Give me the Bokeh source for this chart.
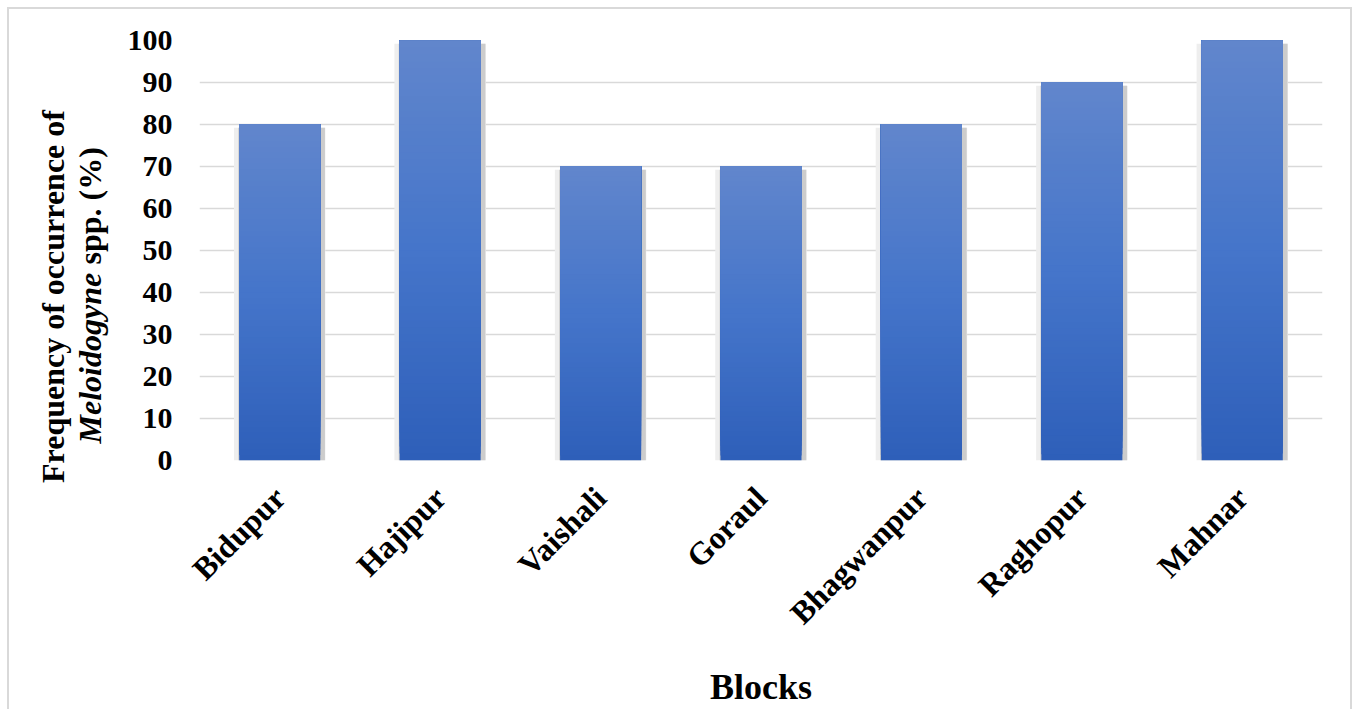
import numpy as np
from math import pi
from bokeh.plotting import figure
from bokeh.layouts import row, column
from bokeh.models import ColumnDataSource, FactorRange, Range1d, FixedTicker, InlineStyleSheet
from bokeh.core.properties import value
from bokeh.transform import dodge
from bokeh.embed import file_html
from bokeh.resources import INLINE

blocks = ["Bidupur", "Hajipur", "Vaishali", "Goraul", "Bhagwanpur", "Raghopur", "Mahnar"]
frequency = [80, 100, 70, 70, 80, 90, 100]
y_ticks = [0, 10, 20, 30, 40, 50, 60, 70, 80, 90, 100]
x_title = "Blocks"
y_title_line1 = "Frequency of occurrence of"
y_title_genus = "Meloidogyne"
y_title_rest = "spp. (%)"

FONT = "Liberation Serif"
LEFT_W = 110
MAIN_W = 1356 - LEFT_W
H = 709

# ---------------- main chart ----------------
p = figure(x_range=FactorRange(factors=blocks), y_range=Range1d(0, 100),
           width=MAIN_W, height=H, output_backend="svg", toolbar_location=None,
           min_border_left=199 - LEFT_W, min_border_right=34, min_border_top=40,
           min_border_bottom=H - 460)
p.outline_line_color = None
p.background_fill_color = "white"
p.border_fill_alpha = 0

p.xgrid.grid_line_color = None
p.ygrid.grid_line_color = "#d9d9d9"
p.ygrid.grid_line_width = 1.5
p.yaxis.ticker = FixedTicker(ticks=y_ticks)

bar_w = 0.505
shadow_src = ColumnDataSource(dict(block=blocks, top=[v - 0.8 for v in frequency]))
p.vbar(x="block", top="top", bottom=-0.4, width=bar_w + 0.065, source=shadow_src,
       fill_color="#eeeeee", line_color=None)
p.vbar(x=dodge("block", 0.012, range=p.x_range), top="top", bottom=-0.4, width=bar_w + 0.035,
       source=shadow_src, fill_color="#cccccc", line_color=None)

stops_pos = [0.0, 0.5, 1.0]
stops_col = [(0x2e, 0x5f, 0xb9), (0x45, 0x75, 0xca), (0x61, 0x86, 0xcc)]
N = 60
sb, sbot, stop, scol = [], [], [], []
for b, v in zip(blocks, frequency):
    for k in range(N):
        f = (k + 0.5) / N
        c = [int(round(np.interp(f, stops_pos, [s[i] for s in stops_col]))) for i in range(3)]
        sb.append(b)
        sbot.append(v * k / N)
        stop.append(v)
        scol.append("#%02x%02x%02x" % tuple(c))
strip_src = ColumnDataSource(dict(block=sb, bottom=sbot, top=stop, color=scol))
p.vbar(x="block", bottom="bottom", top="top", width=bar_w, source=strip_src,
       fill_color="color", line_color=None)

for ax in (p.xaxis, p.yaxis):
    ax.axis_line_color = None
    ax.major_tick_line_color = None
    ax.minor_tick_line_color = None
    ax.major_label_text_font = FONT
    ax.major_label_text_font_style = "bold"
    ax.major_label_text_color = "black"
p.yaxis.major_label_text_font_size = "30px"
p.xaxis.major_label_text_font_size = "32px"
p.yaxis.major_tick_out = 0
p.yaxis.major_label_standoff = 27
p.xaxis.major_tick_out = 0
p.xaxis.major_label_orientation = pi / 4
p.xaxis.major_label_standoff = 32
p.xaxis.axis_label = x_title
p.xaxis.axis_label_text_font = FONT
p.xaxis.axis_label_text_font_style = "bold"
p.xaxis.axis_label_text_font_size = "36px"
p.xaxis.axis_label_text_color = "black"
p.xaxis.axis_label_standoff = 20

# ---------------- left panel: y-axis title ----------------
left = figure(width=LEFT_W, height=H, x_range=Range1d(0, LEFT_W), y_range=Range1d(H, 0),
              output_backend="svg", toolbar_location=None,
              min_border_left=0, min_border_right=0, min_border_top=0, min_border_bottom=0)
left.outline_line_color = None
left.border_fill_alpha = 0
left.background_fill_alpha = 0
left.axis.visible = False
left.grid.visible = False
left.text(x=[52], y=[296], text=[y_title_line1], angle=pi / 2, text_font=value(FONT),
          text_font_style="bold", text_font_size="32px", text_align="center",
          text_baseline="alphabetic", text_color="black")
left.text(x=[89], y=[443], text=[y_title_genus], angle=pi / 2, text_font=value(FONT),
          text_font_style="bold italic", text_font_size="32px", text_align="left",
          text_baseline="alphabetic", text_color="black")
left.text(x=[89], y=[264], text=[y_title_rest], angle=pi / 2, text_font=value(FONT),
          text_font_style="bold", text_font_size="32px", text_align="left",
          text_baseline="alphabetic", text_color="black")

# wrapping the chart in its own column keeps its frame from being aligned with the title panel
layout = row(left, column(p, spacing=0), spacing=0)
css = """
:host {
  background-color: white;
  background-image: linear-gradient(#d9d9d9, #d9d9d9), linear-gradient(#d9d9d9, #d9d9d9), linear-gradient(#d9d9d9, #d9d9d9);
  background-position: 7px 7px, 7px 7px, 1350px 7px;
  background-size: 1345px 2px, 2px 720px, 2px 720px;
  background-repeat: no-repeat;
}
"""
layout.stylesheets = [InlineStyleSheet(css=css)]

open("out.html", "w").write(file_html(layout, INLINE))
